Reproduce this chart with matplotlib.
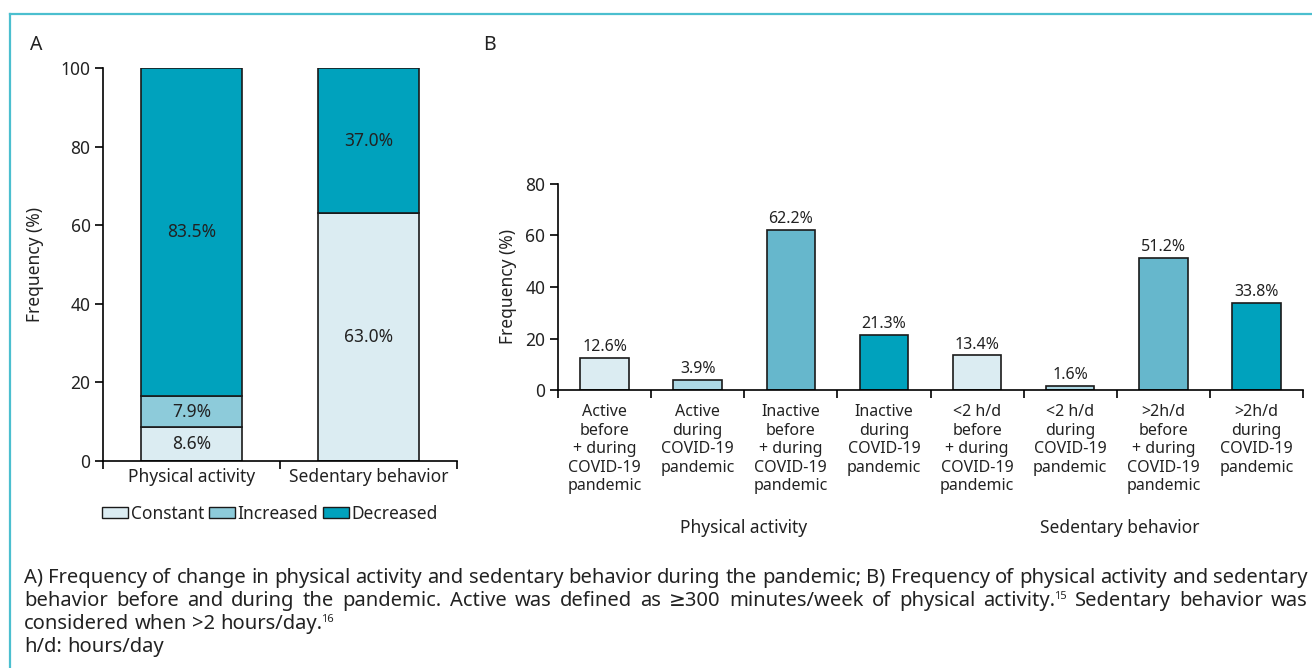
import matplotlib.pyplot as plt
from matplotlib.lines import Line2D
from matplotlib.patches import Patch
import numpy as np

plt.rcParams['font.family'] = ['Noto Sans', 'DejaVu Sans']

# ---- data ----
# panel A: stacked change
groupsA = ['Physical activity', 'Sedentary behavior']
constant = [8.6, 63.0]
increased = [7.9, 0.0]
decreased = [83.5, 37.0]

# panel B: before / during
labelsB = ['Active\nbefore\n+ during\nCOVID-19\npandemic',
           'Active\nduring\nCOVID-19\npandemic',
           'Inactive\nbefore\n+ during\nCOVID-19\npandemic',
           'Inactive\nduring\nCOVID-19\npandemic',
           '<2 h/d\nbefore\n+ during\nCOVID-19\npandemic',
           '<2 h/d\nduring\nCOVID-19\npandemic',
           '>2h/d\nbefore\n+ during\nCOVID-19\npandemic',
           '>2h/d\nduring\nCOVID-19\npandemic']
valuesB = [12.6, 3.9, 62.2, 21.3, 13.4, 1.6, 51.2, 33.8]
groupsB = ['Physical activity', 'Sedentary behavior']

c_const = '#dbecf2'
c_inc = '#8dcbda'
c_dec = '#00a2bd'
colorsB = ['#dbecf2', '#add8e4', '#66b7cc', '#00a2bd'] * 2
txt = '#222222'

W, H = 1312, 668
fig = plt.figure(figsize=(W / 100, H / 100), dpi=100)

def fx(px):
    return px / W

def fy(py):
    return 1 - py / H

# border (top + left only)
fig.add_artist(Line2D([fx(10), 1], [fy(14), fy(14)], color='#4bbfcf', lw=1.6))
fig.add_artist(Line2D([fx(10), fx(10)], [fy(14), 0], color='#4bbfcf', lw=1.6))

fs = 12.5

# ---- panel A ----
axA = fig.add_axes([fx(103), fy(461), fx(457) - fx(103), fy(68) - fy(461)])
xA = np.arange(len(groupsA))
wA = 0.565
bot = np.zeros(len(groupsA))
for vals, col in [(constant, c_const), (increased, c_inc), (decreased, c_dec)]:
    vals = np.array(vals)
    axA.bar(xA, vals, wA, bottom=bot, color=col, edgecolor='#1a1a1a', lw=1.2)
    for i, v in enumerate(vals):
        if v > 0:
            axA.text(xA[i], bot[i] + v / 2, f'{v:.1f}%', ha='center', va='center',
                     fontsize=fs, color=txt)
    bot = bot + vals
axA.set_xlim(-0.5, 1.5)
axA.set_ylim(0, 100)
axA.set_yticks([0, 20, 40, 60, 80, 100])
axA.set_xticks(xA)
axA.set_xticklabels(groupsA)
axA.set_xticks([-0.5, 0.5, 1.5], minor=True)
axA.tick_params(axis='x', which='major', length=0, pad=5, labelsize=fs, labelcolor=txt)
axA.tick_params(axis='x', which='minor', length=6, width=1.2, direction='out')
axA.tick_params(axis='y', length=6, width=1.2, labelsize=fs, pad=3, labelcolor=txt)
axA.set_ylabel('Frequency (%)', fontsize=fs, labelpad=12, color=txt)
for s in ['top', 'right']:
    axA.spines[s].set_visible(False)
for s in ['left', 'bottom']:
    axA.spines[s].set_linewidth(1.2)

handles = [Patch(facecolor=c, edgecolor='#1a1a1a', lw=1.0) for c in (c_const, c_inc, c_dec)]
fig.legend(handles, ['Constant', 'Increased', 'Decreased'], loc='center',
           bbox_to_anchor=(fx(270), fy(514)), ncol=3, frameon=False, fontsize=fs,
           handlelength=1.5, handleheight=0.6, handletextpad=0.15, columnspacing=0.25,
           labelcolor=txt)

# ---- panel B ----
axB = fig.add_axes([fx(558), fy(390), fx(1303) - fx(558), fy(184) - fy(390)])
xB = np.arange(len(valuesB))
axB.bar(xB, valuesB, 0.52, color=colorsB, edgecolor='#1a1a1a', lw=1.2)
for i, v in enumerate(valuesB):
    axB.annotate(f'{v:.1f}%', (xB[i], v), xytext=(0, 2), textcoords='offset points',
                 ha='center', va='bottom', fontsize=11.5, color=txt)
axB.set_xlim(-0.5, len(valuesB) - 0.5)
axB.set_ylim(0, 80)
axB.set_yticks([0, 20, 40, 60, 80])
axB.set_xticks(xB)
axB.set_xticklabels(labelsB, linespacing=1.22)
axB.set_xticks(np.arange(-0.5, len(valuesB)), minor=True)
axB.tick_params(axis='x', which='major', length=0, pad=10, labelsize=11.5, labelcolor=txt)
axB.tick_params(axis='x', which='minor', length=6, width=1.2, direction='out')
axB.tick_params(axis='y', length=6, width=1.2, labelsize=fs, pad=3, labelcolor=txt)
axB.set_ylabel('Frequency (%)', fontsize=fs, labelpad=6, color=txt)
for s in ['top', 'right']:
    axB.spines[s].set_visible(False)
for s in ['left', 'bottom']:
    axB.spines[s].set_linewidth(1.2)

fig.text(fx(744), fy(528), groupsB[0], ha='center', va='center', fontsize=fs, color=txt)
fig.text(fx(1120), fy(528), groupsB[1], ha='center', va='center', fontsize=fs, color=txt)

# panel letters
fig.text(fx(30), fy(45), 'A', ha='left', va='center', fontsize=14, color=txt)
fig.text(fx(483), fy(45), 'B', ha='left', va='center', fontsize=14, color=txt)

# caption: words placed one by one, first two lines justified; '^' marks superscript
cap = [
    ('A) Frequency of change in physical activity and sedentary behavior during the pandemic; B) Frequency of physical activity and sedentary', True),
    ('behavior before and during the pandemic. Active was defined as ≥300 minutes/week of physical activity.^15 Sedentary behavior was', True),
    ('considered when >2 hours/day.^16', False),
    ('h/d: hours/day', False),
]
cfs = 14.5
x0, x1 = 24, 1308
r = fig.canvas.get_renderer()
space = fig.text(0, 0, 'a a', fontsize=cfs).get_window_extent(r).width - \
    fig.text(0, 0, 'aa', fontsize=cfs).get_window_extent(r).width
for t in fig.texts[-2:]:
    t.remove()
for i, (line, justify) in enumerate(cap):
    y = 583 + 23 * i  # baseline
    words = []
    for w in line.split(' '):
        arts = []
        parts = w.split('^')
        arts.append((fig.text(0, fy(y), parts[0], ha='left', va='baseline',
                              fontsize=cfs, color=txt), 0))
        if len(parts) > 1:
            arts.append((fig.text(0, fy(y - 7), parts[1], ha='left', va='baseline',
                                  fontsize=cfs * 0.55, color=txt), -1))
        width = sum(a.get_window_extent(r).width + d for a, d in arts)
        words.append((arts, width))
    total = sum(wd for _, wd in words)
    gap = (x1 - x0 - total) / (len(words) - 1) if justify else space
    x = x0
    for arts, wd in words:
        for a, d in arts:
            a.set_x(fx(x + d))
            x += a.get_window_extent(r).width + d
        x += gap

fig.savefig('out.png', dpi=100)
